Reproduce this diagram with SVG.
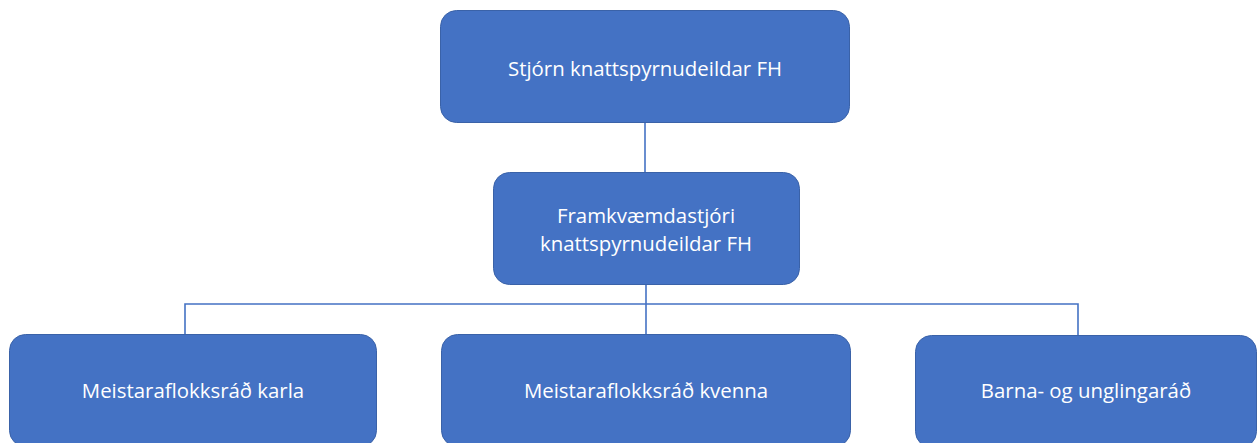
<svg xmlns="http://www.w3.org/2000/svg" width="1258" height="443" viewBox="0 0 1258 443">
<style>
.box{fill:#4472C4;stroke:#3A62A8;stroke-width:1}
.lbl{fill:#FFFFFF;font-family:"Open Sans","Liberation Sans",sans-serif;font-size:20.4px;text-anchor:middle;dominant-baseline:central}
.con{fill:none;stroke:#4472C4;stroke-width:1.6}
</style>
<rect width="1258" height="443" fill="#FFFFFF"/>
<g id="connectors">
<line class="con" x1="645" y1="122" x2="645" y2="172"/>
<line class="con" x1="646" y1="284" x2="646" y2="334"/>
<polyline class="con" points="185,334 185,304 1078,304 1078,335"/>
</g>
<g id="n-stjorn">
<rect class="box" x="440.5" y="10.5" width="409" height="112" rx="16"/>
<text class="lbl" x="645" y="68">Stjórn knattspyrnudeildar FH</text>
</g>
<g id="n-framkv">
<rect class="box" x="493.5" y="172.5" width="306" height="112" rx="16"/>
<text class="lbl" x="646" y="215">Framkvæmdastjóri</text>
<text class="lbl" x="646" y="243">knattspyrnudeildar FH</text>
</g>
<g id="n-karla">
<rect class="box" x="9.5" y="334.5" width="367" height="112" rx="16"/>
<text class="lbl" x="193" y="390">Meistaraflokksráð karla</text>
</g>
<g id="n-kvenna">
<rect class="box" x="441.5" y="334.5" width="409" height="112" rx="16"/>
<text class="lbl" x="646" y="390">Meistaraflokksráð kvenna</text>
</g>
<g id="n-barna">
<rect class="box" x="915.5" y="335.5" width="341" height="112" rx="16"/>
<text class="lbl" x="1086" y="390">Barna- og unglingaráð</text>
</g>
</svg>
